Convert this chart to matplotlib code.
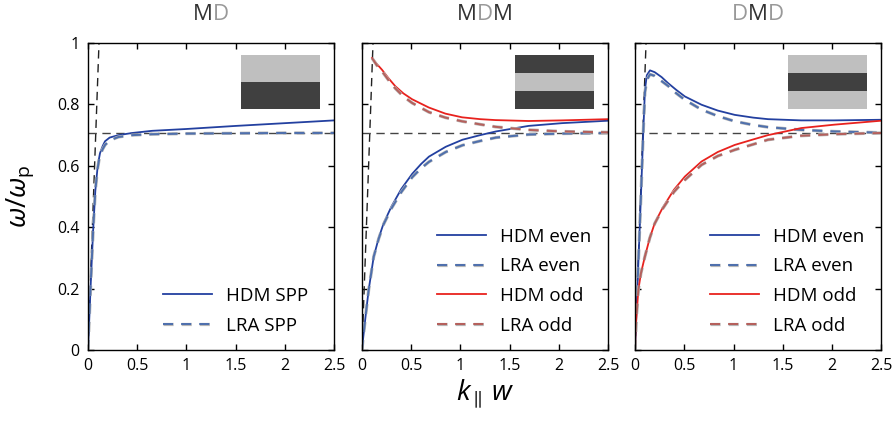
import numpy as np
import matplotlib
matplotlib.use("Agg")
from matplotlib import pyplot as plt
from matplotlib.patches import Rectangle
from matplotlib.ticker import FuncFormatter, MultipleLocator
import matplotlib.patheffects as pe

plt.rcParams['font.family'] = ['Open Sans', 'DejaVu Sans']
plt.rcParams['mathtext.fontset'] = 'custom'
plt.rcParams['mathtext.rm'] = 'Open Sans'
plt.rcParams['mathtext.it'] = 'Open Sans:italic'

# light line and 1/sqrt(2) level
light_k = [0, 0.112]
light_w = [0, 1.0]
sp_level = 0.707

# MD panel
md_k = [0, 0.03, 0.054, 0.075, 0.095, 0.11, 0.122, 0.15, 0.173, 0.22, 0.31, 0.45, 0.65, 1.0, 1.5, 2.0, 2.5]
md_hdm = [0, 0.23, 0.40, 0.52, 0.587, 0.62, 0.641, 0.665, 0.68, 0.692, 0.70, 0.707, 0.714, 0.720, 0.730, 0.739, 0.748]
md_lra = [0, 0.23, 0.40, 0.52, 0.585, 0.615, 0.635, 0.655, 0.668, 0.683, 0.694, 0.700, 0.703, 0.705, 0.706, 0.707, 0.707]

# MDM panel
mdm_k_even = [0, 0.01, 0.04, 0.068, 0.119, 0.17, 0.22, 0.3, 0.4, 0.51, 0.6, 0.68, 0.85, 1.02, 1.2, 1.36, 1.69, 2.03, 2.5]
mdm_hdm_even = [0, 0.033, 0.12, 0.196, 0.304, 0.365, 0.413, 0.468, 0.525, 0.574, 0.606, 0.63, 0.662, 0.685, 0.70, 0.712, 0.730, 0.739, 0.747]
mdm_lra_even = [0, 0.033, 0.12, 0.196, 0.304, 0.363, 0.41, 0.462, 0.515, 0.563, 0.592, 0.613, 0.645, 0.667, 0.681, 0.692, 0.702, 0.705, 0.707]
mdm_k_odd = [0.102, 0.15, 0.203, 0.27, 0.339, 0.42, 0.508, 0.678, 0.847, 1.016, 1.2, 1.355, 1.69, 2.03, 2.5]
mdm_hdm_odd = [0.951, 0.932, 0.913, 0.885, 0.859, 0.836, 0.817, 0.790, 0.770, 0.758, 0.752, 0.749, 0.746, 0.748, 0.752]
mdm_lra_odd = [0.951, 0.928, 0.908, 0.879, 0.852, 0.826, 0.805, 0.775, 0.757, 0.745, 0.735, 0.727, 0.717, 0.712, 0.709]

# DMD panel
dmd_k_even = [0, 0.03, 0.06, 0.085, 0.101, 0.12, 0.152, 0.2, 0.27, 0.337, 0.42, 0.506, 0.675, 0.84, 1.012, 1.2, 1.35, 1.687, 2.02, 2.5]
dmd_hdm_even = [0, 0.25, 0.50, 0.72, 0.848, 0.895, 0.911, 0.905, 0.889, 0.869, 0.847, 0.826, 0.799, 0.780, 0.766, 0.757, 0.752, 0.748, 0.748, 0.750]
dmd_lra_even = [0, 0.25, 0.50, 0.72, 0.84, 0.88, 0.898, 0.893, 0.876, 0.860, 0.836, 0.815, 0.783, 0.762, 0.745, 0.733, 0.726, 0.717, 0.712, 0.708]
dmd_k_odd = [0, 0.005, 0.01, 0.034, 0.06, 0.1, 0.15, 0.2, 0.28, 0.395, 0.506, 0.675, 0.84, 1.012, 1.2, 1.35, 1.687, 2.02, 2.5]
dmd_hdm_odd = [0, 0.06, 0.087, 0.196, 0.25, 0.304, 0.365, 0.413, 0.463, 0.522, 0.565, 0.614, 0.645, 0.668, 0.686, 0.70, 0.723, 0.734, 0.747]
dmd_lra_odd = [0, 0.06, 0.087, 0.196, 0.25, 0.304, 0.365, 0.412, 0.460, 0.515, 0.554, 0.603, 0.632, 0.652, 0.670, 0.685, 0.698, 0.703, 0.707]

titles = [[("M", "#333333"), ("D", "#999999")],
          [("M", "#333333"), ("D", "#999999"), ("M", "#333333")],
          [("D", "#999999"), ("M", "#333333"), ("D", "#999999")]]
# inset stripes, top to bottom
stripes = [["#bfbfbf", "#404040"],
           ["#404040", "#bfbfbf", "#404040"],
           ["#bfbfbf", "#404040", "#bfbfbf"]]

blue = "#2340a0"
blue_d = "#4f70ad"
red = "#e8221e"
red_d = "#b5605c"
halo = [pe.Stroke(linewidth=2.3, foreground="#b8b8b8"), pe.Normal()]

fig = plt.figure(figsize=(8.94, 4.21), dpi=100)
lefts = [0.0984, 0.4049, 0.7103]
axes = [fig.add_axes([l, 0.1686, 0.2755, 0.7292]) for l in lefts]

fmt = FuncFormatter(lambda v, p: "%g" % v)

for i, ax in enumerate(axes):
    ax.plot(light_k, light_w, color="#222222", lw=1.0, dashes=(6, 4))
    ax.axhline(sp_level, color="#444444", lw=1.0, dashes=(6, 4))

    if i == 0:
        ax.plot(md_k, md_hdm, color=blue, lw=1.3, label="HDM SPP")
        ax.plot(md_k, md_lra, color=blue_d, lw=1.45, dashes=(5, 4),
                path_effects=halo, label="LRA SPP")
    else:
        if i == 1:
            ke, he, le = mdm_k_even, mdm_hdm_even, mdm_lra_even
            ko, ho, lo = mdm_k_odd, mdm_hdm_odd, mdm_lra_odd
        else:
            ke, he, le = dmd_k_even, dmd_hdm_even, dmd_lra_even
            ko, ho, lo = dmd_k_odd, dmd_hdm_odd, dmd_lra_odd
        ax.plot(ke, he, color=blue, lw=1.3, label="HDM even")
        ax.plot(ke, le, color=blue_d, lw=1.45, dashes=(5, 4),
                path_effects=halo, label="LRA even")
        ax.plot(ko, ho, color=red, lw=1.3, label="HDM odd")
        ax.plot(ko, lo, color=red_d, lw=1.45, dashes=(5, 4),
                path_effects=halo, label="LRA odd")

    ax.set_xlim(0, 2.5)
    ax.set_ylim(0, 1)
    ax.xaxis.set_major_locator(MultipleLocator(0.5))
    ax.yaxis.set_major_locator(MultipleLocator(0.2))
    ax.xaxis.set_major_formatter(fmt)
    ax.yaxis.set_major_formatter(fmt)
    ax.tick_params(direction="in", top=True, right=True, length=4, width=1,
                   labelsize=11.5, pad=6)
    if i > 0:
        ax.tick_params(labelleft=False)
    for s in ax.spines.values():
        s.set_linewidth(1.0)

    # inset sketch of the layers
    n = len(stripes[i])
    h = (0.961 - 0.785) / n
    for j, c in enumerate(stripes[i]):
        ax.add_patch(Rectangle((0.62, 0.961 - (j + 1) * h), 0.322, h,
                               transform=ax.transAxes, color=c, lw=0, zorder=5))

    ax.legend(loc="lower left", bbox_to_anchor=(0.305, 0.05), frameon=False,
              fontsize=13.5, handlelength=2.6, handletextpad=0.75,
              labelspacing=0.62, borderpad=0, borderaxespad=0)

# coloured titles
renderer = fig.canvas.get_renderer()
for ax, parts in zip(axes, titles):
    widths = []
    for s, c in parts:
        t = fig.text(0, 0, s, fontsize=16)
        widths.append(t.get_window_extent(renderer).width)
        t.remove()
    bb = ax.get_position()
    cx = (bb.x0 + bb.x1) / 2 * fig.bbox.width
    x = cx - sum(widths) / 2
    for (s, c), w in zip(parts, widths):
        fig.text(x / fig.bbox.width, 0.965, s, fontsize=16, color=c,
                 ha="left", va="center")
        x += w

axes[0].set_ylabel(r"$\omega/\omega_\mathrm{p}$", fontsize=20)
axes[0].yaxis.set_label_coords(-0.21, 0.5)
axes[1].set_xlabel(r"$k_{\parallel}\,w$", fontsize=20, labelpad=2)

plt.savefig("out.png", dpi=100)
